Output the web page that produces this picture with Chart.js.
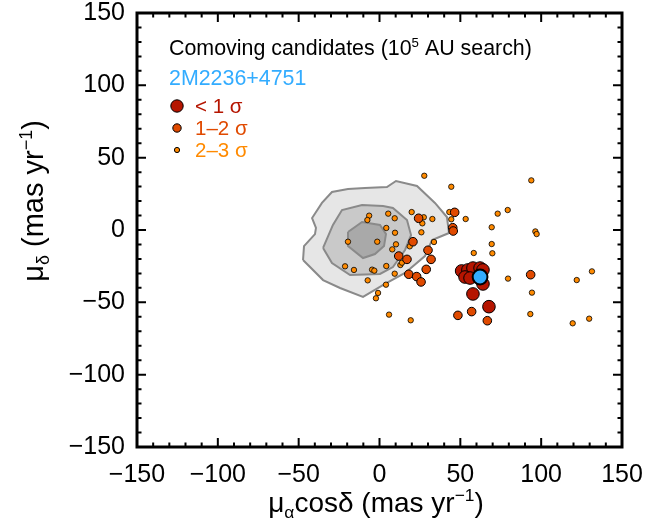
<!DOCTYPE html>
<html>
<head>
<meta charset="utf-8">
<script src="https://cdn.jsdelivr.net/npm/chart.js@4"></script>
<style>
  body { margin: 0; background: #fff; }
</style>
</head>
<body>
<canvas id="pm_chart" width="651" height="527"></canvas>
<script>
// proper motions (mas/yr)
var sigma1_pts = [
  [50.8, -28.3], [54.7, -27.6], [57.8, -26.3], [62.2, -26.3], [64.0, -27.6],
  [52.9, -32.5], [56.0, -33.2], [64.0, -37.3], [57.8, -44.2], [67.7, -53.0]
];
var sigma2_pts = [
  [46.5, 12.2], [24.2, 8.1], [45.3, 1.6], [45.6, -0.7], [20.7, -8.1],
  [30.0, -14.0], [31.9, -20.3], [11.9, -18.0], [17.0, -20.3], [28.9, -27.2],
  [18.1, -30.6], [23.0, -32.2], [25.7, -35.9], [48.5, -59.0], [57.0, -56.4],
  [66.7, -62.7], [93.5, -30.9]
];
var sigma3_pts = [
  [27.7, 37.5], [44.4, 29.9], [-6.4, 9.9], [-7.5, 6.9], [5.4, 11.3], [9.4, 8.1],
  [19.9, 12.4], [27.4, 8.8], [32.7, 7.6], [26.5, 4.6], [25.9, -1.6], [4.2, 1.4],
  [9.6, -1.9], [-19.5, -8.1], [-1.4, -8.1], [10.2, -9.9], [7.9, -13.4], [18.7, -11.3],
  [33.7, -8.3], [44.4, 7.4], [43.2, 12.4], [53.3, 7.6], [58.3, -15.9], [-21.3, -25.1],
  [-15.8, -27.6], [-4.6, -27.4], [-3.2, -28.1], [4.2, -24.9], [12.9, -24.2], [13.9, -22.6],
  [9.4, -30.2], [-7.3, -34.8], [4.0, -37.8], [-0.9, -43.5], [-2.2, -47.2], [5.9, -58.5],
  [19.3, -62.4], [73.1, 11.3], [79.3, 13.8], [69.4, 1.9], [96.4, -1.0], [97.2, -2.8],
  [69.4, -9.7], [69.8, -16.1], [79.5, -33.6], [94.3, -43.3], [93.3, -58.1], [122.0, -34.6],
  [131.4, -28.6], [119.5, -64.5], [129.7, -61.3], [93.9, 34.3]
];
var target_pt = [[62.2, -32.5]];

// field population density contours
var contour_outer = [
  [-47.3, -20.7], [-46.7, -11.1], [-39.9, -2.8], [-39.3, 1.4], [-41.7, 8.3], [-35.6, 18.7],
  [-29.4, 26.3], [-19.5, 28.3], [-9.0, 29.0], [4.6, 29.7], [10.2, 33.9], [23.2, 30.4],
  [34.3, 18.7], [41.7, 9.0], [43.0, -2.1], [32.5, -6.9], [28.1, -18.0], [15.8, -29.7],
  [3.4, -37.3], [-10.2, -46.3], [-24.4, -40.1], [-34.9, -34.6], [-47.3, -20.7]
];
var contour_mid = [
  [-34.9, -12.4], [-28.8, 3.5], [-23.2, 13.8], [-10.8, 17.3], [2.2, 16.6], [8.3, 15.2],
  [17.0, 6.9], [19.5, -3.5], [15.8, -13.8], [8.3, -25.6], [0.3, -30.4], [-18.2, -31.1],
  [-29.4, -22.8], [-34.9, -12.4]
];
var contour_inner = [
  [-19.5, -1.4], [-10.8, 5.5], [0.3, 3.5], [4.0, -2.8], [2.8, -11.1], [-2.8, -16.6],
  [-10.2, -19.4], [-19.5, -11.1], [-19.5, -1.4]
];

var axis_min = -150, axis_max = 150, major_step = 50, minor_step = 10;

var FONT = '"Liberation Sans", Arial, Helvetica, sans-serif';
var RED = "#b51500", ORANGERED = "#e04a00", ORANGE = "#ff8a00", BLUE = "#33acff";

function toXY(arr) {
  return arr.map(function (p) { return { x: p[0], y: p[1] }; });
}

function fmt(v) {
  return v < 0 ? "\u2212" + Math.abs(v) : "" + v;
}

// draw a run of text pieces, some as sub/superscripts
function richText(ctx, parts, x, y, size, align) {
  var w = 0;
  parts.forEach(function (p) {
    ctx.font = (p.sub || p.sup ? size * 0.62 : size) + "px " + FONT;
    p.w = ctx.measureText(p.t).width;
    w += p.w;
  });
  var cx = align === "center" ? x - w / 2 : x;
  parts.forEach(function (p) {
    ctx.font = (p.sub || p.sup ? size * 0.62 : size) + "px " + FONT;
    var dy = p.sub ? size * 0.22 : (p.sup ? -size * 0.38 : 0);
    ctx.fillText(p.t, cx, y + dy);
    cx += p.w;
  });
}

var framePlugin = {
  id: "frame",
  afterDatasetsDraw: function (chart) {
    var ctx = chart.ctx, a = chart.chartArea;
    var xs = chart.scales.x, ys = chart.scales.y;
    ctx.save();
    ctx.strokeStyle = "#000";
    ctx.lineWidth = 2;
    for (var v = axis_min; v <= axis_max; v += minor_step) {
      var len = v % major_step === 0 ? 9 : 4.5;
      var px = xs.getPixelForValue(v), py = ys.getPixelForValue(v);
      ctx.beginPath();
      ctx.moveTo(px, a.bottom); ctx.lineTo(px, a.bottom - len);
      ctx.moveTo(px, a.top); ctx.lineTo(px, a.top + len);
      ctx.moveTo(a.left, py); ctx.lineTo(a.left + len, py);
      ctx.moveTo(a.right, py); ctx.lineTo(a.right - len, py);
      ctx.stroke();
    }
    ctx.lineWidth = 3;
    ctx.strokeRect(a.left, a.top, a.right - a.left, a.bottom - a.top);
    ctx.restore();
  },
  afterDraw: function (chart) {
    var ctx = chart.ctx;
    ctx.save();
    ctx.fillStyle = "#000";
    ctx.textBaseline = "alphabetic";
    // x axis title
    richText(ctx, [{ t: "\u03bc" }, { t: "\u03b1", sub: true }, { t: "cos\u03b4 (mas yr" },
      { t: "\u22121", sup: true }, { t: ")" }], 376, 512, 28, "center");
    // y axis title
    ctx.translate(43, 201);
    ctx.rotate(-Math.PI / 2);
    richText(ctx, [{ t: "\u03bc" }, { t: "\u03b4", sub: true }, { t: " (mas yr" },
      { t: "\u22121", sup: true }, { t: ")" }], 0, 0, 29, "center");
    ctx.restore();

    // legend block
    ctx.save();
    ctx.textBaseline = "alphabetic";
    ctx.fillStyle = "#000";
    richText(ctx, [{ t: "Comoving candidates (10" }, { t: "5", sup: true }, { t: " AU search)" }],
      169, 55, 21.4, "left");
    ctx.fillStyle = BLUE;
    ctx.font = "21.4px " + FONT;
    ctx.fillText("2M2236+4751", 169, 85);
    var rows = [
      { label: "< 1 \u03c3", color: RED, r: 6.2, y: 106 },
      { label: "1\u20132 \u03c3", color: ORANGERED, r: 4.2, y: 128 },
      { label: "2\u20133 \u03c3", color: ORANGE, r: 2.6, y: 150 }
    ];
    rows.forEach(function (row) {
      ctx.beginPath();
      ctx.arc(177, row.y, row.r, 0, Math.PI * 2);
      ctx.fillStyle = row.color;
      ctx.fill();
      ctx.lineWidth = 1;
      ctx.strokeStyle = "#000";
      ctx.stroke();
      ctx.fillStyle = row.color;
      ctx.font = "20.5px " + FONT;
      ctx.fillText(row.label, 195, row.y + 6.5);
    });
    ctx.restore();
  }
};

function contourSet(pts, fillColor, ord) {
  return {
    type: "line",
    data: toXY(pts),
    showLine: true,
    fill: "shape",
    backgroundColor: fillColor,
    borderColor: "#8a8a8a",
    borderWidth: 2,
    pointRadius: 0,
    tension: 0,
    order: ord
  };
}

function pointSet(pts, color, radius, bw, ord) {
  return {
    data: toXY(pts),
    backgroundColor: color,
    borderColor: "#000",
    borderWidth: bw,
    pointRadius: radius,
    pointHoverRadius: radius,
    order: ord
  };
}

new Chart(document.getElementById("pm_chart"), {
  type: "scatter",
  data: {
    datasets: [
      pointSet(target_pt, BLUE, 7.4, 2, 0),
      pointSet(sigma1_pts, RED, 6.3, 1, 1),
      pointSet(sigma2_pts, ORANGERED, 4.3, 1, 2),
      pointSet(sigma3_pts, ORANGE, 2.7, 0.8, 3),
      contourSet(contour_inner, "#a9a9a9", 4),
      contourSet(contour_mid, "#c9c9c9", 5),
      contourSet(contour_outer, "#e6e6e6", 6)
    ]
  },
  options: {
    responsive: false,
    animation: false,
    layout: { padding: { top: 13, right: 29, left: 0, bottom: 0 } },
    plugins: {
      legend: { display: false },
      tooltip: { enabled: false }
    },
    scales: {
      x: {
        type: "linear",
        min: axis_min,
        max: axis_max,
        grid: { display: false, drawTicks: false },
        border: { display: false },
        ticks: {
          stepSize: major_step,
          color: "#000",
          padding: 13,
          maxRotation: 0,
          font: { family: FONT, size: 25 },
          callback: fmt
        },
        afterFit: function (s) {
          s.height = 80;
          s.paddingLeft = 0;
          s.paddingRight = 0;
        }
      },
      y: {
        type: "linear",
        min: axis_min,
        max: axis_max,
        grid: { display: false, drawTicks: false },
        border: { display: false },
        ticks: {
          stepSize: major_step,
          color: "#000",
          padding: 12,
          font: { family: FONT, size: 25 },
          callback: fmt
        },
        afterFit: function (s) {
          s.width = 137;
          s.paddingTop = 0;
          s.paddingBottom = 0;
        }
      }
    }
  },
  plugins: [framePlugin]
});
</script>
</body>
</html>
